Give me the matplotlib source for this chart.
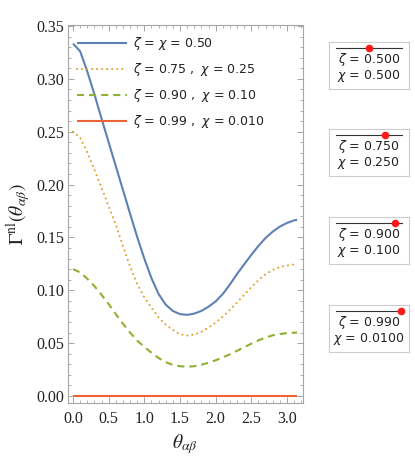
import matplotlib
matplotlib.use('Agg')
import matplotlib.pyplot as plt
from matplotlib.ticker import MultipleLocator, FormatStrFormatter

# ---------------- data ----------------
theta = [0.0, 0.1, 0.2, 0.3, 0.4, 0.5, 0.6, 0.7, 0.8, 0.9, 1.0, 1.1, 1.2, 1.3, 1.4,
         1.5, 1.6, 1.7, 1.8, 1.9, 2.0, 2.1, 2.2, 2.3, 2.4, 2.5, 2.6, 2.7, 2.8, 2.9,
         3.0, 3.1, 3.1416]

gamma_050 = [0.3333, 0.3262, 0.3070, 0.2855, 0.2625, 0.2400, 0.2175, 0.1950, 0.1725, 0.1505,
             0.1300, 0.1115, 0.0965, 0.0865, 0.0805, 0.0775, 0.0768, 0.0780, 0.0805, 0.0845,
             0.0895, 0.0965, 0.1055, 0.1155, 0.1245, 0.1335, 0.1420, 0.1495, 0.1555, 0.1603,
             0.1637, 0.1662, 0.1667]

gamma_075 = [0.2500, 0.2445, 0.2305, 0.2140, 0.1970, 0.1795, 0.1620, 0.1420, 0.1225, 0.1060,
             0.0935, 0.0835, 0.0745, 0.0675, 0.0625, 0.0585, 0.0572, 0.0582, 0.0608, 0.0648,
             0.0695, 0.0750, 0.0815, 0.0885, 0.0958, 0.1030, 0.1095, 0.1152, 0.1193, 0.1220,
             0.1235, 0.1245, 0.1250]

gamma_090 = [0.1200, 0.1170, 0.1110, 0.1040, 0.0958, 0.0870, 0.0775, 0.0685, 0.0600, 0.0525,
             0.0465, 0.0410, 0.0360, 0.0320, 0.0295, 0.0282, 0.0277, 0.0282, 0.0296, 0.0315,
             0.0338, 0.0365, 0.0395, 0.0428, 0.0462, 0.0495, 0.0527, 0.0553, 0.0574, 0.0587,
             0.0595, 0.0599, 0.0600]

gamma_099 = [0.0] * len(theta)

legend_labels = [r'$\zeta$ = $\chi$ = 0.50',
                 r'$\zeta$ = 0.75 ,  $\chi$ = 0.25',
                 r'$\zeta$ = 0.90 ,  $\chi$ = 0.10',
                 r'$\zeta$ = 0.99 ,  $\chi$ = 0.010']

zeta_vals = [0.5, 0.75, 0.9, 0.99]
zeta_text = ['0.500', '0.750', '0.900', '0.990']
chi_text = ['0.500', '0.250', '0.100', '0.0100']

x_ticks = [0.0, 0.5, 1.0, 1.5, 2.0, 2.5, 3.0]
y_ticks = [0.00, 0.05, 0.10, 0.15, 0.20, 0.25, 0.30, 0.35]

# ---------------- style ----------------
BLUE = '#5E81B5'
ORANGE = '#E19C24'
GREEN = '#8FB032'
RED = '#EB6235'
FRAME = '#a6a6a6'

plt.rcParams['mathtext.fontset'] = 'dejavusans'

W, H = 415, 461
fig = plt.figure(figsize=(W / 100, H / 100), dpi=100)

left, right, top, bottom = 68.3, 302.5, 25.0, 402.7
ax = fig.add_axes([left / W, 1 - bottom / H, (right - left) / W, (bottom - top) / H])

lw = 1.5
ax.plot(theta, gamma_050, color=BLUE, lw=lw, solid_capstyle='butt',
        solid_joinstyle='round', label=legend_labels[0])
ax.plot(theta, gamma_075, color=ORANGE, lw=lw, linestyle=(0, (0.01, 2.4)),
        dash_capstyle='round', label=legend_labels[1])
ax.plot(theta, gamma_090, color=GREEN, lw=lw, linestyle=(0, (3.4, 2.4)),
        dash_capstyle='butt', label=legend_labels[2])
ax.plot(theta, gamma_099, color=RED, lw=lw, solid_capstyle='butt', label=legend_labels[3])

ax.set_xlim(-0.066, 3.218)
ax.set_ylim(-0.0063, 0.351)

ax.set_xticks(x_ticks)
ax.set_yticks(y_ticks)
ax.xaxis.set_minor_locator(MultipleLocator(0.1))
ax.yaxis.set_minor_locator(MultipleLocator(0.01))
ax.xaxis.set_major_formatter(FormatStrFormatter('%.1f'))
ax.yaxis.set_major_formatter(FormatStrFormatter('%.2f'))

ax.tick_params(which='both', direction='in', top=True, right=True, color=FRAME,
               labelsize=11.5, labelcolor='#222222')
ax.tick_params(which='major', length=4, width=0.7)
ax.tick_params(which='minor', length=2.3, width=0.6)
ax.tick_params(axis='x', pad=6)
ax.tick_params(axis='y', pad=3)
for lab in ax.get_xticklabels() + ax.get_yticklabels():
    lab.set_fontfamily('Liberation Serif')
for s in ax.spines.values():
    s.set_color(FRAME)
    s.set_linewidth(0.8)

ax.set_xlabel(r'$\theta_{\alpha\beta}$', fontsize=14, labelpad=4,
              math_fontfamily='stix', color='#222222')
ax.set_ylabel(r'$\Gamma^{\mathrm{nl}}(\theta_{\alpha\beta})$', fontsize=14, labelpad=2,
              math_fontfamily='stix', color='#222222')

leg = ax.legend(loc='upper left',
                bbox_to_anchor=((77 - left) / (right - left), (bottom - 35.5) / (bottom - top)),
                frameon=False, fontsize=9, handlelength=4.0, handletextpad=0.5,
                labelspacing=0.72, borderpad=0, borderaxespad=0)
for t in leg.get_texts():
    t.set_color('#222222')

# ---------------- right-hand control panels ----------------
box_left, box_right = 329.3, 408.5
box_tops = [42.3, 129.3, 217.3, 305.0]
box_h = 46.5
sl0, sl1 = 336.0, 401.7
for z, zt, ct, bt in zip(zeta_vals, zeta_text, chi_text, box_tops):
    bax = fig.add_axes([box_left / W, 1 - (bt + box_h) / H, (box_right - box_left) / W, box_h / H])
    span = sl1 - sl0
    bax.set_xlim(-(sl0 - box_left) / span, 1 + (box_right - sl1) / span)
    bax.set_ylim(box_h, 0)
    bax.set_xticks([])
    bax.set_yticks([])
    for s in bax.spines.values():
        s.set_color('#cccccc')
        s.set_linewidth(0.8)
    bax.plot([0, 1], [6, 6], color='#333333', lw=0.8)
    bax.plot([z], [6], 'o', color='#ff1a1a', ms=5.5, mec='none')
    bax.text(0.5, 17, r'$\zeta$ = ' + zt, ha='center', va='center', fontsize=9, color='#222222')
    bax.text(0.5, 33.5, r'$\chi$ = ' + ct, ha='center', va='center', fontsize=9, color='#222222')

fig.savefig('out.png', dpi=100)
